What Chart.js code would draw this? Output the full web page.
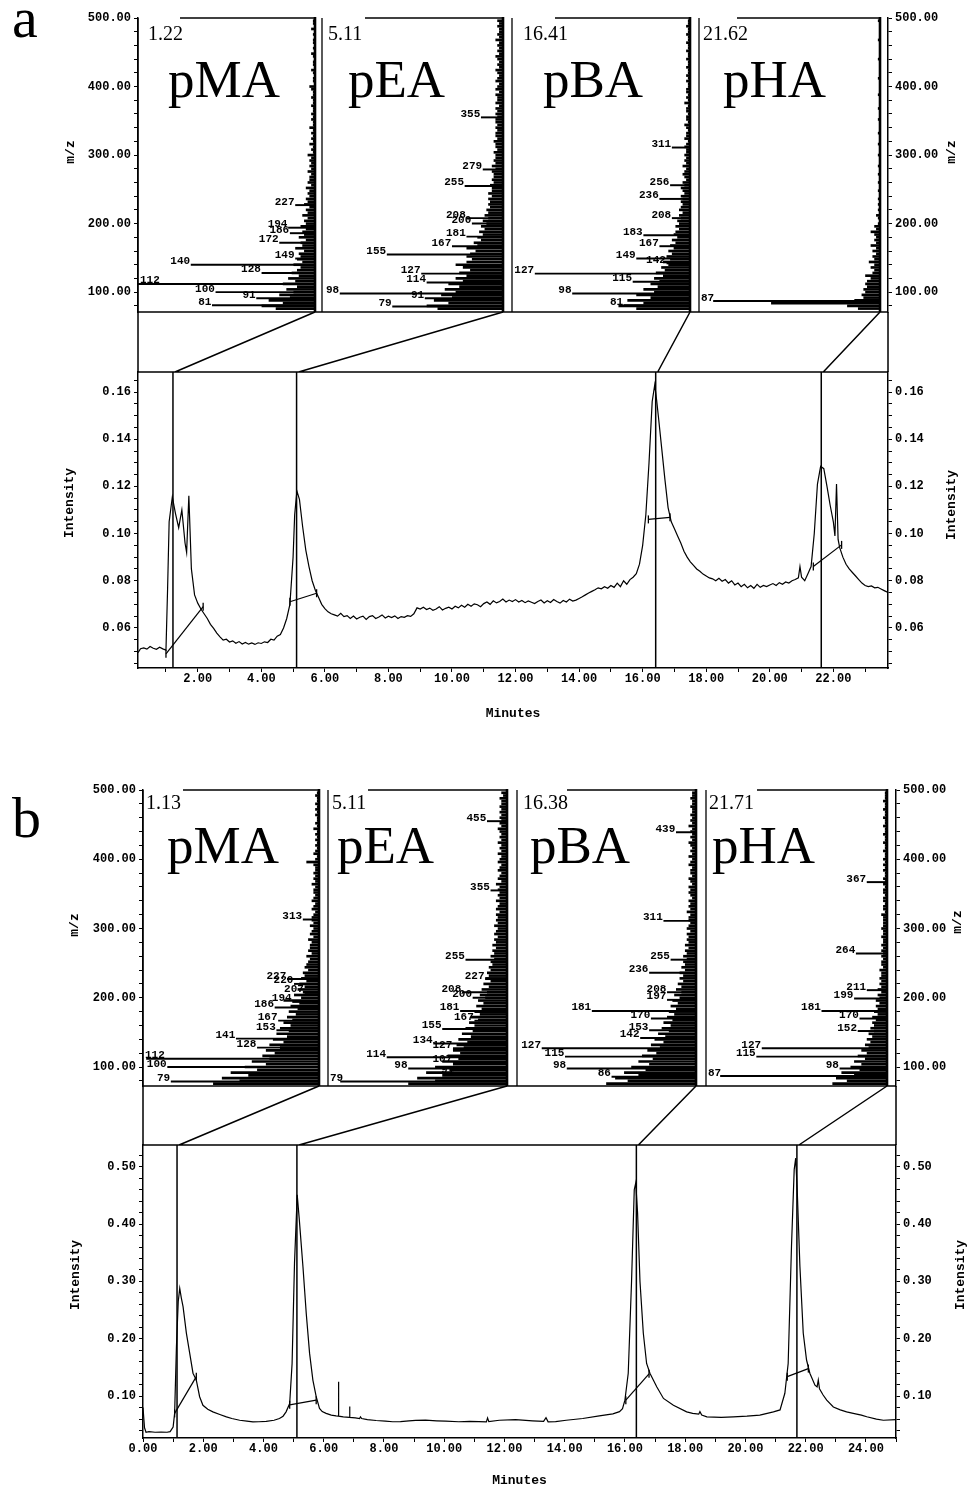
<!DOCTYPE html>
<html>
<head>
<meta charset="utf-8">
<script src="https://cdn.jsdelivr.net/npm/chart.js@4.4.1/dist/chart.umd.min.js"></script>
<style>
html,body{margin:0;padding:0;background:#fff;}
#page{position:relative;width:968px;height:1489px;overflow:hidden;background:#fff;}
#page canvas{position:absolute;left:0;}
.txt{position:absolute;font-family:"Liberation Serif","Times New Roman",serif;color:#000;line-height:1;white-space:nowrap;}
</style>
</head>
<body>
<div id="page">
<canvas id="specA" width="968" height="330" style="top:0px"></canvas>
<canvas id="chromA" width="968" height="430" style="top:300px"></canvas>
<canvas id="specB" width="968" height="330" style="top:770px"></canvas>
<canvas id="chromB" width="968" height="409" style="top:1080px"></canvas>
</div>
<script>
// ---------------- DATA ----------------
const compounds = ['pMA', 'pEA', 'pBA', 'pHA'];

// m/z channels of the mass spectra
const mzGrid = [76,80,84,88,92,96,100,104,108,112,116,120,124,128,132,136,140,144,148,152,
156,160,164,168,172,176,180,184,188,192,196,200,204,208,212,216,220,224,228,232,
236,240,244,248,252,256,260,264,268,272,276,280,284,288,292,296,300,304,308,312,
316,320,324,328,332,336,340,344,348,352,356,360,364,368,372,376,380,384,388,392,
396,400,404,408,412,416,420,424,428,432,436,440,444,448,452,456,460,464,468,472,
476,480,484,488,492,496];
const mzTicks = [80,100,120,140,160,180,200,220,240,260,280,300,320,340,360,380,400,420,440,460,480,500];
const mzLabels = [100,200,300,400,500];

// ----- Panel a -----
const rtA = [1.22, 5.11, 16.41, 21.62];
const rtTextA = ['1.22', '5.11', '16.41', '21.62'];

const specA_pMA = [22,30,18,26,14,20,12,16,10,18,
11,15,9,13,10,8,12,7,10,8,
9,6,11,7,8,5,9,6,7,5,
8,5,6,4,7,4,5,3,6,4,
5,3,4,3,5,2,4,3,3,2,
4,2,3,2,3,2,4,1,2,1,
3,1,2,1,2,1,3,1,1,2,
1,2,1,1,2,1,1,2,1,1,
2,3,0,1,1,0,1,2,0,1,
1,0,1,2,0,1,0,1,1,0,
1,0,2,0,1,1];
const specA_pEA = [36,42,30,38,28,34,26,32,24,30,
22,26,20,24,18,22,26,20,17,20,
18,15,20,14,16,12,14,11,13,10,
12,9,11,8,10,8,9,7,8,7,
8,6,8,6,6,7,5,6,5,5,
6,4,6,4,5,4,4,5,3,4,
4,5,3,4,4,3,4,3,4,4,
3,4,3,4,2,4,3,3,4,2,
4,3,2,4,3,2,3,4,2,3,
2,3,4,2,3,2,3,2,4,2,
3,2,2,3,2,3];
const specA_pBA = [30,40,26,35,22,30,20,26,18,22,
17,20,15,19,14,16,12,15,11,13,
10,12,9,11,8,10,7,9,8,6,
8,6,7,5,6,4,6,5,4,5,
4,5,3,4,5,3,4,2,3,4,
3,2,4,2,3,2,3,2,2,3,
2,1,3,2,2,1,2,3,1,2,
2,1,2,2,1,3,1,2,1,2,
2,1,1,2,1,2,1,1,2,1,
1,2,1,1,2,1,1,2,1,1,
2,1,1,2,1,1];
const specA_pHA = [12,18,60,14,9,10,8,9,7,8,
7,5,8,4,3,5,3,6,3,4,
2,4,2,5,2,3,2,3,5,2,
3,1,0,1,2,0,1,0,1,0,
1,0,0,1,0,0,1,0,0,1,
0,0,1,0,0,0,1,0,0,0,
1,0,0,0,1,0,0,0,0,1,
0,0,0,1,0,0,0,0,1,0,
0,0,0,0,1,0,0,0,0,0,
0,1,0,0,0,0,0,0,1,0,
0,0,0,0,0,1];

const peaksA_pMA_mz  = [227,194,186,172,149,140,128,112,100,91,81];
const peaksA_pMA_int = [11,15,14,20,11,70,30,100,56,33,58];
const peaksA_pEA_mz  = [355,279,255,208,200,181,167,155,127,114,98,91,79];
const peaksA_pEA_int = [12,11,21,20,17,20,28,64,45,42,90,43,61];
const peaksA_pBA_mz  = [311,256,236,208,183,167,149,142,127,115,98,81];
const peaksA_pBA_int = [10,11,17,10,26,17,30,13,87,32,66,37];
const peaksA_pHA_mz  = [87];
const peaksA_pHA_int = [92];

const timeA = [0.12,0.20,0.30,0.40,0.50,0.60,0.70,0.80,0.90,1.00,
1.05,1.10,1.20,1.30,1.40,1.50,1.60,1.65,1.72,1.80,
1.90,2.00,2.10,2.20,2.30,2.40,2.50,2.60,2.70,2.80,
2.90,3.00,3.10,3.20,3.30,3.40,3.50,3.60,3.70,3.80,
3.90,4.00,4.10,4.20,4.30,4.40,4.50,4.60,4.70,4.80,
4.90,5.00,5.05,5.12,5.20,5.30,5.40,5.50,5.60,5.70,
5.80,5.90,6.00,6.10,6.20,6.30,6.40,6.50,6.60,6.70,
6.80,6.90,7.00,7.10,7.20,7.30,7.40,7.50,7.60,7.70,
7.80,7.90,8.00,8.10,8.20,8.30,8.40,8.50,8.60,8.70,
8.80,8.90,9.00,9.10,9.20,9.30,9.40,9.50,9.60,9.70,
9.80,9.90,10.00,10.10,10.20,10.30,10.40,10.50,10.60,10.70,
10.80,10.90,11.00,11.10,11.20,11.30,11.40,11.50,11.60,11.70,
11.80,11.90,12.00,12.10,12.20,12.30,12.40,12.50,12.60,12.70,
12.80,12.90,13.00,13.10,13.20,13.30,13.40,13.50,13.60,13.70,
13.80,13.90,14.00,14.10,14.20,14.30,14.40,14.50,14.60,14.70,
14.80,14.90,15.00,15.10,15.20,15.30,15.40,15.50,15.60,15.70,
15.80,15.90,16.00,16.10,16.20,16.30,16.38,16.44,16.50,16.60,
16.70,16.80,16.90,17.00,17.10,17.20,17.30,17.40,17.50,17.60,
17.70,17.80,17.90,18.00,18.10,18.20,18.30,18.40,18.50,18.60,
18.70,18.80,18.90,19.00,19.10,19.20,19.30,19.40,19.50,19.60,
19.70,19.80,19.90,20.00,20.10,20.20,20.30,20.40,20.50,20.60,
20.70,20.80,20.90,20.95,21.00,21.10,21.20,21.30,21.40,21.50,
21.60,21.70,21.80,21.90,22.00,22.05,22.10,22.15,22.20,22.30,
22.40,22.50,22.60,22.70,22.80,22.90,23.00,23.10,23.20,23.30,
23.40,23.50,23.60,23.72];
const intenA = [0.0495,0.0512,0.0515,0.0510,0.0521,0.0514,0.0509,0.0518,0.0511,0.0506,
0.0760,0.1050,0.1155,0.1085,0.1025,0.1100,0.0960,0.0920,0.1160,0.0850,
0.0740,0.0705,0.0680,0.0660,0.0640,0.0615,0.0598,0.0578,0.0562,0.0548,
0.0552,0.0540,0.0545,0.0535,0.0542,0.0532,0.0538,0.0531,0.0536,0.0530,
0.0537,0.0534,0.0541,0.0538,0.0552,0.0548,0.0565,0.0572,0.0600,0.0640,
0.0700,0.0900,0.1080,0.1180,0.1145,0.1030,0.0930,0.0860,0.0800,0.0760,
0.0730,0.0700,0.0682,0.0668,0.0660,0.0655,0.0650,0.0662,0.0648,0.0652,
0.0640,0.0650,0.0638,0.0645,0.0650,0.0636,0.0648,0.0652,0.0640,0.0646,
0.0655,0.0642,0.0650,0.0644,0.0651,0.0640,0.0648,0.0645,0.0652,0.0649,
0.0660,0.0685,0.0680,0.0688,0.0678,0.0684,0.0675,0.0680,0.0690,0.0676,
0.0683,0.0688,0.0680,0.0692,0.0685,0.0696,0.0688,0.0700,0.0692,0.0702,
0.0698,0.0690,0.0703,0.0710,0.0700,0.0715,0.0706,0.0712,0.0722,0.0710,
0.0718,0.0712,0.0720,0.0710,0.0716,0.0707,0.0714,0.0709,0.0703,0.0712,
0.0718,0.0706,0.0715,0.0708,0.0720,0.0712,0.0705,0.0716,0.0710,0.0722,
0.0714,0.0718,0.0725,0.0732,0.0740,0.0748,0.0755,0.0762,0.0770,0.0766,
0.0775,0.0768,0.0780,0.0772,0.0790,0.0775,0.0800,0.0785,0.0805,0.0815,
0.0830,0.0870,0.0950,0.1080,0.1300,0.1560,0.1630,0.1565,0.1490,0.1360,
0.1230,0.1110,0.1050,0.1020,0.0990,0.0960,0.0925,0.0900,0.0880,0.0865,
0.0850,0.0840,0.0828,0.0820,0.0812,0.0808,0.0800,0.0810,0.0798,0.0805,
0.0790,0.0800,0.0782,0.0790,0.0775,0.0785,0.0770,0.0780,0.0768,0.0785,
0.0772,0.0780,0.0775,0.0782,0.0788,0.0780,0.0792,0.0785,0.0795,0.0790,
0.0800,0.0805,0.0812,0.0860,0.0815,0.0800,0.0830,0.0860,0.1000,0.1210,
0.1285,0.1275,0.1200,0.1120,0.1050,0.0990,0.1210,0.0975,0.0940,0.0900,
0.0870,0.0850,0.0835,0.0820,0.0805,0.0790,0.0780,0.0775,0.0778,0.0770,
0.0772,0.0765,0.0758,0.0750];
// integration baselines (start/end)
const bslA_t0 = [1.00, 4.90, 16.18, 21.37];
const bslA_v0 = [0.0490, 0.0711, 0.1060, 0.0860];
const bslA_t1 = [2.17, 5.74, 16.86, 22.26];
const bslA_v1 = [0.0690, 0.0747, 0.1069, 0.0952];
const xTicksA = [1,2,3,4,5,6,7,8,9,10,11,12,13,14,15,16,17,18,19,20,21,22,23];
const xLabelsA = [2,4,6,8,10,12,14,16,18,20,22];
const yTicksA = [0.045,0.05,0.055,0.06,0.065,0.07,0.075,0.08,0.085,0.09,0.095,0.10,0.105,0.11,0.115,0.12,0.125,0.13,0.135,0.14,0.145,0.15,0.155,0.16,0.165];
const yLabelsA = [0.06,0.08,0.10,0.12,0.14,0.16];

// ----- Panel b -----
const rtB = [1.13, 5.11, 16.38, 21.71];
const rtTextB = ['1.13', '5.11', '16.38', '21.71'];

const specB_pMA = [60,45,55,40,50,35,42,30,38,28,
32,25,30,22,28,20,26,18,24,17,
22,16,20,15,18,13,17,12,16,11,
20,10,14,9,12,8,11,7,10,8,
9,6,8,7,6,5,7,4,6,5,
5,4,6,3,5,4,3,5,3,4,
4,3,2,4,3,2,4,3,2,3,
3,2,4,2,3,2,3,2,2,3,
7,2,1,3,2,1,2,1,2,1,
2,1,3,1,2,1,1,2,1,2,
1,2,1,1,2,1];
const specB_pEA = [55,40,50,36,45,32,40,30,36,27,
33,26,30,24,28,22,27,20,25,19,
23,18,21,16,20,15,18,14,17,13,
16,12,15,11,14,10,13,9,12,10,
11,9,10,8,9,7,9,7,8,6,
8,6,7,5,7,6,5,7,5,6,
5,6,4,6,5,4,6,4,5,4,
5,4,6,3,5,4,3,5,4,3,
5,4,3,5,3,4,3,5,3,4,
3,4,5,3,4,3,4,3,4,3,
4,3,3,4,2,3];
const specB_pBA = [50,38,45,32,40,28,36,26,32,24,
30,22,27,20,25,18,23,17,21,15,
19,14,18,13,16,12,15,11,14,10,
13,9,12,8,11,8,10,7,9,7,
9,6,8,6,7,5,7,5,6,4,
6,4,5,4,5,3,5,4,3,4,
4,3,5,3,4,3,4,2,3,4,
3,4,2,3,4,2,3,3,2,4,
3,2,4,2,3,2,3,4,2,3,
2,3,2,4,2,3,2,3,2,2,
3,2,2,3,2,2];
const specB_pHA = [30,22,28,18,25,15,20,14,18,12,
16,11,14,10,12,9,11,8,10,7,
9,7,8,6,8,5,7,5,6,4,
6,4,5,3,5,3,4,3,4,3,
3,4,2,3,3,2,3,2,3,2,
3,2,2,3,2,2,3,2,2,2,
2,3,1,2,2,1,2,2,1,2,
2,1,2,1,2,1,1,2,1,2,
1,2,1,1,2,1,1,2,1,1,
2,1,1,2,1,1,2,1,1,2,
1,1,2,1,1,1];

const peaksB_pMA_mz  = [313,227,220,207,194,186,167,153,141,128,112,100,79];
const peaksB_pMA_int = [9,18,14,8,15,25,23,24,47,35,98,86,84];
const peaksB_pEA_mz  = [455,355,255,227,208,200,181,167,155,134,127,114,107,98,91,79];
const peaksB_pEA_int = [11,9,23,12,25,19,26,18,36,41,30,67,30,55,29,93];
const peaksB_pBA_mz  = [439,311,255,236,208,197,181,170,153,142,127,115,98,86];
const peaksB_pBA_int = [11,18,14,26,16,16,58,25,26,31,86,73,72,47];
const peaksB_pHA_mz  = [367,264,211,199,181,170,152,127,115,98,87];
const peaksB_pHA_int = [11,17,11,18,36,15,16,69,72,26,92];

const timeB = [0.00,0.05,0.10,0.20,0.40,0.60,0.80,0.90,1.00,1.05,
1.11,1.17,1.22,1.27,1.33,1.44,1.55,1.66,1.77,1.88,
1.99,2.15,2.32,2.55,2.77,2.95,3.21,3.45,3.65,3.85,
4.09,4.35,4.53,4.65,4.75,4.87,4.95,5.03,5.12,5.19,
5.31,5.42,5.53,5.64,5.75,5.86,5.95,6.08,6.25,6.41,
6.48,6.49,6.50,6.65,6.85,6.86,6.87,7.05,7.19,7.22,
7.26,7.45,7.74,8.05,8.29,8.55,8.83,9.05,9.38,9.75,
10.05,10.48,10.85,11.15,11.40,11.44,11.48,11.83,12.37,12.93,
13.30,13.38,13.45,13.70,14.05,14.60,15.15,15.60,15.82,15.92,
16.00,16.11,16.22,16.31,16.36,16.42,16.50,16.61,16.72,16.83,
17.06,17.28,17.61,18.05,18.25,18.45,18.49,18.55,18.72,19.20,
19.60,20.05,20.48,20.93,21.15,21.31,21.42,21.53,21.62,21.67,
21.72,21.81,21.92,22.03,22.14,22.31,22.38,22.42,22.46,22.58,
22.70,22.92,23.15,23.36,23.58,23.85,24.03,24.35,24.58,25.00];
const intenB = [0.080,0.045,0.037,0.038,0.037,0.0375,0.037,0.038,0.046,0.070,
0.186,0.265,0.288,0.272,0.256,0.210,0.175,0.140,0.128,0.099,
0.084,0.077,0.0726,0.068,0.0638,0.061,0.058,0.0565,0.055,0.0553,
0.056,0.058,0.061,0.065,0.0726,0.087,0.157,0.332,0.451,0.4075,
0.326,0.244,0.175,0.128,0.099,0.0785,0.073,0.070,0.067,0.0655,
0.065,0.125,0.065,0.064,0.063,0.082,0.063,0.062,0.061,0.064,
0.061,0.059,0.0575,0.0565,0.0553,0.0555,0.057,0.0578,0.058,0.057,
0.0565,0.0553,0.056,0.0555,0.055,0.062,0.0555,0.058,0.059,0.057,
0.056,0.0625,0.0553,0.0555,0.058,0.061,0.0655,0.069,0.073,0.078,
0.093,0.140,0.300,0.460,0.472,0.420,0.300,0.210,0.157,0.140,
0.116,0.096,0.084,0.0726,0.070,0.0685,0.073,0.067,0.064,0.063,
0.064,0.065,0.067,0.0725,0.076,0.105,0.157,0.361,0.495,0.515,
0.460,0.326,0.210,0.163,0.140,0.119,0.116,0.128,0.113,0.102,
0.093,0.081,0.076,0.0725,0.070,0.067,0.064,0.060,0.058,0.059];
const bslB_t0 = [1.05, 4.87, 16.03, 21.39];
const bslB_v0 = [0.070, 0.0848, 0.093, 0.134];
const bslB_t1 = [1.77, 5.75, 16.80, 22.09];
const bslB_v1 = [0.134, 0.093, 0.139, 0.148];
const xTicksB = [0,1,2,3,4,5,6,7,8,9,10,11,12,13,14,15,16,17,18,19,20,21,22,23,24,25];
const xLabelsB = [0,2,4,6,8,10,12,14,16,18,20,22,24];
const yTicksB = [0.04,0.06,0.08,0.10,0.12,0.14,0.16,0.18,0.20,0.22,0.24,0.26,0.28,0.30,0.32,0.34,0.36,0.38,0.40,0.42,0.44,0.46,0.48,0.50,0.52];
const yLabelsB = [0.10,0.20,0.30,0.40,0.50];

// ---------------- LAYOUT ----------------
const CANVAS_W = 968;
const LAYOUT = {
  a: { specTop: 0, specH: 330, chromTop: 300, chromH: 430,
       left: 138, right: 888, specPad: [18, 18], chromPadTop: 72, xAxisH: 62, xTitlePad: 8,
       mzRange: [71, 500], xRange: [0.12, 23.72], yRange: [0.043, 0.1685],
       boxL: [138, 322, 512, 699], boxR: [315, 503, 690, 880], topGap: [42, 43, 43, 38],
       nameX: [168, 348, 543, 723], nameBase: 97, rtX: [148, 328, 523, 703], rtBase: 40,
       panel: { text: 'a', x: 12, base: 38 },
       specTitles: [{ x: 71, y: 152 }, { x: 952, y: 152 }],
       chromTitles: [{ x: 70, y: 203 }, { x: 952, y: 205 }] },
  b: { specTop: 770, specH: 330, chromTop: 1080, chromH: 409,
       left: 143, right: 896, specPad: [20, 14], chromPadTop: 65, xAxisH: 51, xTitlePad: 0,
       mzRange: [72.6, 500], xRange: [0, 25], yRange: [0.027, 0.538],
       boxL: [143, 328, 517, 706], boxR: [319, 507, 696, 887], topGap: [40, 40, 50, 51],
       nameX: [167, 337, 530, 712], nameBase: 863, rtX: [146, 332, 523, 709], rtBase: 809,
       panel: { text: 'b', x: 12, base: 838 },
       specTitles: [{ x: 75, y: 155 }, { x: 958, y: 152 }],
       chromTitles: [{ x: 76, y: 195 }, { x: 961, y: 195 }] }
};

// ---------------- DRAWING ----------------
Chart.defaults.font.family = '"Liberation Mono", "DejaVu Sans Mono", monospace';
Chart.defaults.color = '#000';
const TICKFONT = { family: '"Liberation Mono", monospace', size: 12, weight: 'bold' };
const TITLEFONT = 'bold 13px "Liberation Mono", monospace';
const PEAKFONT = 'bold 11px "Liberation Mono", monospace';
const near = (arr, v) => arr.some(a => Math.abs(a - v) < 1e-6);

function vTitles(items) {
  return {
    id: 'vTitles',
    afterDraw(chart) {
      const ctx = chart.ctx;
      ctx.save();
      ctx.font = TITLEFONT; ctx.fillStyle = '#000';
      ctx.textAlign = 'center'; ctx.textBaseline = 'middle';
      items.forEach(t => {
        ctx.save(); ctx.translate(t.x, t.y); ctx.rotate(-Math.PI / 2);
        ctx.fillText(t.text, 0, 0); ctx.restore();
      });
      ctx.restore();
    }
  };
}

function specDeco(P, peaks) {
  return {
    id: 'specDeco',
    afterDatasetsDraw(chart) {
      const ctx = chart.ctx, a = chart.chartArea, ys = chart.scales.mz;
      ctx.save();
      ctx.strokeStyle = '#000'; ctx.fillStyle = '#000';
      const seg = (x1, y1, x2, y2, w) => { ctx.lineWidth = w; ctx.beginPath(); ctx.moveTo(x1, y1); ctx.lineTo(x2, y2); ctx.stroke(); };
      for (let i = 0; i < 4; i++) {
        const s = chart.scales['i' + i];
        const L = s.getPixelForValue(100), R = s.getPixelForValue(0);
        seg(L, a.top, L, a.bottom, 1.3);
        seg(R, a.top - 1, R, a.bottom, 2.6);
        seg(L + P.topGap[i], a.top, R, a.top, 1.5);
        ctx.font = PEAKFONT; ctx.textAlign = 'right'; ctx.textBaseline = 'alphabetic';
        const pk = peaks[i];
        for (let k = 0; k < pk.mz.length; k++) {
          const txt = String(pk.mz[k]);
          const w = ctx.measureText(txt).width;
          let x = s.getPixelForValue(pk.int[k]) - 1;
          if (x - w < L + 2) x = L + 2 + w;
          ctx.fillText(txt, x, ys.getPixelForValue(pk.mz[k]) - 0.5);
        }
      }
      seg(a.left, a.bottom, a.right, a.bottom, 1.5);
      ctx.restore();
    }
  };
}

function chromDeco(rt, boxRight, yTop) {
  return {
    id: 'chromDeco',
    afterDraw(chart) {
      const ctx = chart.ctx, a = chart.chartArea, xs = chart.scales.x;
      ctx.save();
      ctx.strokeStyle = '#000'; ctx.lineWidth = 1.5;
      ctx.beginPath();
      ctx.moveTo(a.left, a.top); ctx.lineTo(a.right, a.top);
      ctx.moveTo(a.left, yTop); ctx.lineTo(a.left, a.top);
      ctx.moveTo(a.right, yTop); ctx.lineTo(a.right, a.top);
      rt.forEach((t, i) => { ctx.moveTo(boxRight[i], yTop); ctx.lineTo(xs.getPixelForValue(t) + 2, a.top); });
      ctx.stroke();
      ctx.restore();
    }
  };
}

function yAxis(pos, width, min, max, ticks, labels, extra) {
  return Object.assign({
    type: 'linear', position: pos, min: min, max: max, offset: false,
    afterBuildTicks: s => { s.ticks = ticks.map(v => ({ value: v })); },
    afterFit: s => { s.width = width; },
    ticks: { autoSkip: false, font: TICKFONT, color: '#000', padding: 3,
             callback: v => near(labels, v) ? Number(v).toFixed(2) : '' },
    grid: { drawOnChartArea: false, tickLength: 4, color: '#000', offset: false },
    border: { display: true, color: '#000', width: 1.5 }
  }, extra || {});
}

function buildSpectra(canvasId, P, spectra, peaks, titles) {
  const W = P.right - P.left;
  const scales = {
    mz: yAxis('left', P.left, P.mzRange[0], P.mzRange[1], mzTicks, mzLabels),
    mz2: yAxis('right', CANVAS_W - P.right, P.mzRange[0], P.mzRange[1], mzTicks, mzLabels)
  };
  P.boxL.forEach((L, i) => {
    const R = P.boxR[i];
    const range = 100 * W / (R - L);
    const min = -(P.right - R) * 100 / (R - L);
    scales['i' + i] = { type: 'linear', axis: 'x', position: 'bottom', display: false, reverse: true, min: min, max: min + range };
  });
  const datasets = [];
  spectra.forEach((arr, i) => datasets.push({
    data: mzGrid.map((m, k) => ({ y: m, x: arr[k] })), xAxisID: 'i' + i, yAxisID: 'mz',
    backgroundColor: '#000', borderWidth: 0, barThickness: 2, grouped: false
  }));
  peaks.forEach((pk, i) => datasets.push({
    data: pk.mz.map((m, k) => ({ y: m, x: pk.int[k] })), xAxisID: 'i' + i, yAxisID: 'mz',
    backgroundColor: '#000', borderWidth: 0, barThickness: 1.3, grouped: false
  }));
  return new Chart(document.getElementById(canvasId), {
    type: 'bar',
    data: { datasets: datasets },
    options: {
      indexAxis: 'y', responsive: false, animation: false, devicePixelRatio: 1, events: [],
      layout: { padding: { top: P.specPad[0], bottom: P.specPad[1], left: 0, right: 0 } },
      plugins: { legend: { display: false }, tooltip: { enabled: false } },
      scales: scales
    },
    plugins: [specDeco(P, peaks), vTitles(titles)]
  });
}

function buildChrom(canvasId, P, time, inten, rt, bsl, xTicks, xLabels, yTicks, yLabels, boxRight, yTop, titles) {
  const datasets = [{
    data: time.map((t, i) => ({ x: t, y: inten[i] })),
    borderColor: '#000', borderWidth: 1.2, pointRadius: 0, tension: 0, fill: false
  }];
  rt.forEach(t => datasets.push({
    data: [{ x: t, y: P.yRange[0] }, { x: t, y: P.yRange[1] }],
    borderColor: '#000', borderWidth: 1.5, pointRadius: 0, fill: false
  }));
  bsl.t0.forEach((t, i) => datasets.push({
    data: [{ x: t, y: bsl.v0[i] }, { x: bsl.t1[i], y: bsl.v1[i] }],
    borderColor: '#000', borderWidth: 1.2, pointRadius: 4, pointStyle: 'line', pointRotation: 90,
    pointBorderColor: '#000', pointBorderWidth: 1.3, fill: false
  }));
  return new Chart(document.getElementById(canvasId), {
    type: 'line',
    data: { datasets: datasets },
    options: {
      responsive: false, animation: false, devicePixelRatio: 1, events: [],
      layout: { padding: { top: P.chromPadTop, bottom: 0, left: 0, right: 0 } },
      plugins: { legend: { display: false }, tooltip: { enabled: false } },
      scales: {
        x: {
          type: 'linear', position: 'bottom', min: P.xRange[0], max: P.xRange[1],
          afterBuildTicks: s => { s.ticks = xTicks.map(v => ({ value: v })); },
          afterFit: s => { s.height = P.xAxisH; },
          ticks: { autoSkip: false, maxRotation: 0, minRotation: 0, font: TICKFONT, color: '#000', padding: 0,
                   callback: v => near(xLabels, v) ? Number(v).toFixed(2) : '' },
          grid: { drawOnChartArea: false, tickLength: 4, color: '#000' },
          border: { display: true, color: '#000', width: 1.5 },
          title: { display: true, text: 'Minutes', color: '#000',
                   font: { family: '"Liberation Mono", monospace', size: 13, weight: 'bold' },
                   padding: { top: 0, bottom: P.xTitlePad } }
        },
        y: yAxis('left', P.left, P.yRange[0], P.yRange[1], yTicks, yLabels),
        y2: yAxis('right', CANVAS_W - P.right, P.yRange[0], P.yRange[1], yTicks, yLabels)
      }
    },
    plugins: [chromDeco(rt, boxRight, yTop), vTitles(titles)]
  });
}

function addText(text, left, base, size) {
  const d = document.createElement('div');
  d.className = 'txt'; d.textContent = text;
  d.style.left = left + 'px'; d.style.top = (base - 0.8375 * size) + 'px'; d.style.fontSize = size + 'px';
  document.getElementById('page').appendChild(d);
}

function buildPanel(key, ids, spectra, peaks, time, inten, rt, rtText, bsl, xT, xL, yT, yL) {
  const P = LAYOUT[key];
  const spec = buildSpectra(ids[0], P, spectra, peaks, [
    { text: 'm/z', x: P.specTitles[0].x, y: P.specTitles[0].y },
    { text: 'm/z', x: P.specTitles[1].x, y: P.specTitles[1].y }]);
  const boxRight = [0, 1, 2, 3].map(i => spec.scales['i' + i].getPixelForValue(0));
  const yTop = spec.chartArea.bottom + P.specTop - P.chromTop;
  buildChrom(ids[1], P, time, inten, rt, bsl, xT, xL, yT, yL, boxRight, yTop, [
    { text: 'Intensity', x: P.chromTitles[0].x, y: P.chromTitles[0].y },
    { text: 'Intensity', x: P.chromTitles[1].x, y: P.chromTitles[1].y }]);
  compounds.forEach((c, i) => addText(c, P.nameX[i], P.nameBase, 53));
  rtText.forEach((t, i) => addText(t, P.rtX[i], P.rtBase, 20));
  addText(P.panel.text, P.panel.x, P.panel.base, 58);
}

buildPanel('a', ['specA', 'chromA'],
  [specA_pMA, specA_pEA, specA_pBA, specA_pHA],
  [{ mz: peaksA_pMA_mz, int: peaksA_pMA_int }, { mz: peaksA_pEA_mz, int: peaksA_pEA_int },
   { mz: peaksA_pBA_mz, int: peaksA_pBA_int }, { mz: peaksA_pHA_mz, int: peaksA_pHA_int }],
  timeA, intenA, rtA, rtTextA, { t0: bslA_t0, v0: bslA_v0, t1: bslA_t1, v1: bslA_v1 },
  xTicksA, xLabelsA, yTicksA, yLabelsA);

buildPanel('b', ['specB', 'chromB'],
  [specB_pMA, specB_pEA, specB_pBA, specB_pHA],
  [{ mz: peaksB_pMA_mz, int: peaksB_pMA_int }, { mz: peaksB_pEA_mz, int: peaksB_pEA_int },
   { mz: peaksB_pBA_mz, int: peaksB_pBA_int }, { mz: peaksB_pHA_mz, int: peaksB_pHA_int }],
  timeB, intenB, rtB, rtTextB, { t0: bslB_t0, v0: bslB_v0, t1: bslB_t1, v1: bslB_v1 },
  xTicksB, xLabelsB, yTicksB, yLabelsB);
</script>
</body>
</html>
